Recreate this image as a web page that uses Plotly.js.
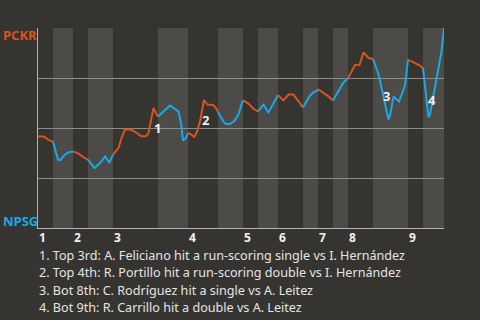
<!DOCTYPE html>
<html>
<head>
<meta charset="utf-8">
<script src="https://cdn.plot.ly/plotly-3.0.1.min.js"></script>
<style>
html,body{margin:0;padding:0;background:#363431;}
#chart{width:480px;height:320px;}
</style>
</head>
<body>
<div id="chart"></div>
<script>
// ---- data ----
const awayTeam = 'PCKR';
const homeTeam = 'NPSG';
const innings = ['1','2','3','4','5','6','7','8','9'];
// play index where each half-inning starts (top 1st, bot 1st, top 2nd, ...)
const halfStarts = [0,3,7,10,15,24,30,36,41,44,48,53,56,59,62,67,74,77];
const gameEnd = 81.2;
// play index and PCKR win probability (%)
const playX = [
  0,1.2,2.2,3.0,
  4.0,4.4,5.4,6.2,7.0,
  7.9,8.6,9.3,10.0,
  11.3,12.4,13.4,14.3,15.0,
  16.1,16.7,17.4,18.6,19.8,20.6,21.6,22.1,22.5,23.1,23.6,24.0,
  24.7,26.4,27.1,28.1,28.6,29.0,29.6,30.0,
  30.7,31.2,31.7,32.4,33.2,33.9,35.1,35.6,36.0,
  37.1,37.6,38.4,39.2,40.0,41.0,
  42.1,43.1,44.0,
  45.1,46.1,48.0,
  49.1,50.1,51.1,52.1,53.0,
  53.7,54.4,55.1,55.9,56.0,
  57.4,58.1,59.0,
  60.1,61.1,62.0,
  63.1,63.4,64.3,65.1,66.1,67.0,
  68.1,70.1,70.4,71.1,71.7,72.2,73.4,74.0,
  75.4,76.4,77.0,
  78.1,78.4,79.6,80.7,81.2
];
const winProb = [
  45.8,45.7,43.9,43.2,
  34.2,33.9,36.7,37.9,38.3,
  37.5,36.3,35.0,34.2,
  30.0,32.5,35.8,32.7,36.7,
  40.0,45.0,49.2,49.2,47.5,45.9,45.9,47.5,52.7,60.0,57.5,55.8,
  57.5,61.2,60.0,58.3,52.5,43.7,45.0,47.5,
  46.7,45.5,47.5,53.3,64.0,61.7,61.4,60.0,58.0,
  53.2,52.0,52.0,53.4,56.2,63.8,
  62.2,59.5,58.3,
  61.7,57.8,66.4,
  63.8,66.7,66.7,63.3,60.3,
  63.3,66.2,67.8,68.8,69.4,
  67.0,65.8,63.7,
  68.7,72.8,74.8,
  80.3,81.5,81.5,87.8,85.0,84.5,
  77.0,54.2,56.2,65.8,64.2,63.2,71.2,84.2,
  82.5,81.2,80.0,
  55.3,56.7,72.5,88.2,100
];
const eventLabels = ['1','2','3','4'];
const eventX = [23.1,33.2,70.1,78.1];
const eventY = [60.0,64.0,54.2,55.3];
const eventText = [
  '1. Top 3rd: A. Feliciano hit a run-scoring single vs I. Hernández',
  '2. Top 4th: R. Portillo hit a run-scoring double vs I. Hernández',
  '3. Bot 8th: C. Rodríguez hit a single vs A. Leitez',
  '4. Bot 9th: R. Carrillo hit a double vs A. Leitez'
];

// ---- style ----
const BG = '#363431';
const BAND = '#4c4b48';
const ORANGE = '#d9531e';
const BLUE = '#1ba8e6';
const FONT = 'Noto Sans, sans-serif';

const traces = [];
for (let h = 0; h < halfStarts.length; h++) {
  const s = halfStarts[h];
  const e = h + 1 < halfStarts.length ? halfStarts[h+1] : gameEnd;
  const xs = [], ys = [];
  for (let i = 0; i < playX.length; i++) {
    if (playX[i] >= s - 1e-9 && playX[i] <= e + 1e-9) { xs.push(playX[i]); ys.push(winProb[i]); }
  }
  traces.push({
    x: xs, y: ys, type: 'scatter', mode: 'lines', hoverinfo: 'skip',
    line: {color: h % 2 === 0 ? ORANGE : BLUE, width: 2}
  });
}

const shapes = [];
for (let h = 1; h < halfStarts.length; h += 2) {
  const e = h + 1 < halfStarts.length ? halfStarts[h+1] : gameEnd;
  shapes.push({type:'rect', xref:'x', yref:'paper', x0: halfStarts[h], x1: e, y0: 0, y1: 1,
    fillcolor: BAND, line: {width: 0}, layer: 'below'});
}

const annotations = [];
const shifts = [[4,-20],[1,-20],[-2,24],[3,17]];
eventLabels.forEach((t, i) => {
  annotations.push({x: eventX[i], y: eventY[i], xref:'x', yref:'y', text: '<b>'+t+'</b>', showarrow:false,
    xshift: shifts[i][0], yshift: shifts[i][1],
    font:{family: FONT, size: 13, color:'#f0f0f0'}});
});
innings.forEach((t, i) => {
  annotations.push({x: halfStarts[2*i], y: 0, xref:'x', yref:'paper', text: '<b>'+t+'</b>',
    showarrow:false, xanchor:'left', yanchor:'top', yshift: 0, xshift: 0, borderpad: 0,
    font:{family: FONT, size: 12, color:'#f2f2f2'}});
});
eventText.forEach((t, i) => {
  annotations.push({x: 0, y: 0, xref:'paper', yref:'paper', text: t, showarrow:false,
    xanchor:'left', yanchor:'middle', xshift: 0, yshift: -27.5 - 17.4*i, borderpad: 0,
    font:{family: FONT, size: 12.6, color:'#e4e4e4'}});
});
annotations.push({x: 0, y: 1, xref:'paper', yref:'paper', text:'<b>'+awayTeam+'</b>', showarrow:false,
  xanchor:'left', yanchor:'middle', xshift: -37, yshift: -7,
  font:{family: FONT, size: 13, color: ORANGE}});
annotations.push({x: 0, y: 0, xref:'paper', yref:'paper', text:'<b>'+homeTeam+'</b>', showarrow:false,
  xanchor:'left', yanchor:'middle', xshift: -37, yshift: 7,
  font:{family: FONT, size: 13, color: BLUE}});

const layout = {
  width: 480, height: 320,
  margin: {l: 38, r: 36, t: 28, b: 92, pad: 0},
  paper_bgcolor: BG, plot_bgcolor: BG,
  showlegend: false,
  xaxis: {range: [0, gameEnd], showgrid: false, zeroline: false, showticklabels: false,
    ticks: '', showline: true, linecolor: '#b4b4b4', linewidth: 1},
  yaxis: {range: [0, 100], tickvals: [25,50,75,100], showticklabels: false, ticks: '',
    showgrid: true, gridcolor: '#8c8c8c', gridwidth: 1, zeroline: false,
    showline: true, linecolor: '#b4b4b4', linewidth: 1},
  shapes: shapes,
  annotations: annotations
};

Plotly.newPlot('chart', traces, layout, {staticPlot: true, displayModeBar: false});
</script>
</body>
</html>
